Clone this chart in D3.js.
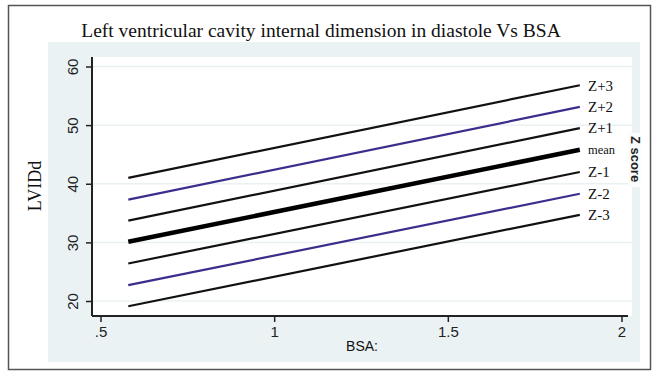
<!DOCTYPE html>
<html>
<head>
<meta charset="utf-8">
<script src="https://cdn.jsdelivr.net/npm/d3@7"></script>
<style>
  body { margin: 0; background: #fff; }
  svg { display: block; }
</style>
</head>
<body>
<script>
// BSA range covered by the reference lines
let bsa = [0.58, 1.88]

// LVIDd at start and end of each line
let zPlus3 = [41.0, 56.8]
let zPlus2 = [37.3, 53.1]
let zPlus1 = [33.7, 49.5]
let zMean = [30.1, 45.8]
let zMinus1 = [26.4, 42.0]
let zMinus2 = [22.7, 38.3]
let zMinus3 = [19.1, 34.7]

let seriesNames = ["Z+3", "Z+2", "Z+1", "mean", "Z-1", "Z-2", "Z-3"]
let xTicks = [0.5, 1, 1.5, 2]
let yTicks = [20, 30, 40, 50, 60]

let series = [zPlus3, zPlus2, zPlus1, zMean, zMinus1, zMinus2, zMinus3]
let colors = ["#111", "#3b2d8c", "#111", "#000", "#111", "#3b2d8c", "#111"]
let widths = [2.2, 2.2, 2.2, 4.5, 2.2, 2.2, 2.2]

let W = 657, H = 376
let svg = d3.select("body").append("svg")
            .attr("width", W)
            .attr("height", H)

// outer frame and background
svg.append("rect")
    .attr("x", 8.5).attr("y", 5.5)
    .attr("width", 642).attr("height", 364)
    .attr("fill", "#fff")
    .attr("stroke", "#555")
    .attr("stroke-width", 1.5)

svg.append("rect")
    .attr("x", 48).attr("y", 42)
    .attr("width", 592).attr("height", 320)
    .attr("fill", "#eaf2f4")

let plot = {left: 92, right: 632, top: 57, bottom: 316}

svg.append("rect")
    .attr("x", plot.left).attr("y", plot.top)
    .attr("width", plot.right - plot.left)
    .attr("height", plot.bottom - plot.top)
    .attr("fill", "#fff")

let x = d3.scaleLinear().domain([0.5, 2]).range([100.5, 621.5])
let y = d3.scaleLinear().domain([20, 60]).range([301, 66.5])

// faint grid
svg.append("g")
    .selectAll("line")
    .data(yTicks)
    .enter()
    .append("line")
        .attr("x1", plot.left).attr("x2", plot.right)
        .attr("y1", d => y(d)).attr("y2", d => y(d))
        .attr("stroke", "#eaf1f3")
        .attr("stroke-width", 1.5)

// lines
let line = d3.line()
    .x(d => x(d[0]))
    .y(d => y(d[1]))

svg.append("g")
    .selectAll("path")
    .data(series)
    .enter()
    .append("path")
        .attr("d", d => line(bsa.map((b, i) => [b, d[i]])))
        .attr("fill", "none")
        .attr("stroke", (d, i) => colors[i])
        .attr("stroke-width", (d, i) => widths[i])

// axes
let yAxis = svg.append("g")
    .attr("transform", "translate(" + plot.left + ",0)")
    .call(d3.axisLeft(y).tickValues(yTicks).tickSize(6).tickPadding(4))
yAxis.select(".domain").attr("d", "M0," + plot.top + "V" + plot.bottom).attr("stroke-width", 2).attr("stroke", "#222")
yAxis.selectAll(".tick line").attr("stroke-width", 1.5).attr("stroke", "#222")
yAxis.selectAll(".tick text")
    .attr("font-family", "Liberation Sans, Arial, sans-serif")
    .attr("font-size", 15)
    .attr("fill", "#222")
    .attr("text-anchor", "middle")
    .attr("transform", "translate(-19,0) rotate(-90)")
    .attr("x", 0).attr("dy", "0.35em")

let xAxis = svg.append("g")
    .attr("transform", "translate(0," + plot.bottom + ")")
    .call(d3.axisBottom(x).tickValues(xTicks).tickFormat(d => d == 0.5 ? ".5" : d3.format("")(d)).tickSize(6).tickPadding(4))
xAxis.select(".domain").attr("d", "M" + plot.left + ",0H" + (plot.right - 4)).attr("stroke-width", 2).attr("stroke", "#222")
xAxis.selectAll(".tick line").attr("stroke-width", 1.5).attr("stroke", "#222")
xAxis.selectAll(".tick text")
    .attr("font-family", "Liberation Sans, Arial, sans-serif")
    .attr("font-size", 15)
    .attr("fill", "#222")

// labels
svg.append("text")
    .attr("x", 321).attr("y", 37)
    .attr("text-anchor", "middle")
    .attr("font-family", "Liberation Serif, Times New Roman, serif")
    .attr("font-size", 19.5)
    .attr("fill", "#111")
    .text("Left ventricular cavity internal dimension in diastole Vs BSA")

svg.append("text")
    .attr("transform", "translate(41,186) rotate(-90)")
    .attr("text-anchor", "middle")
    .attr("font-family", "Liberation Serif, Times New Roman, serif")
    .attr("font-size", 18)
    .attr("fill", "#111")
    .text("LVIDd")

svg.append("text")
    .attr("x", 362).attr("y", 351)
    .attr("text-anchor", "middle")
    .attr("font-family", "Liberation Sans, Arial, sans-serif")
    .attr("font-size", 14)
    .attr("fill", "#111")
    .text("BSA:")

// series labels at line ends
svg.append("g")
    .selectAll("text")
    .data(seriesNames)
    .enter()
    .append("text")
        .attr("x", 588)
        .attr("y", (d, i) => y(series[i][1]))
        .attr("dy", "0.35em")
        .attr("font-family", "Liberation Serif, Times New Roman, serif")
        .attr("font-size", (d) => d == "mean" ? 12.5 : 15)
        .attr("fill", "#111")
        .text(d => d)

svg.append("rect")
    .attr("x", 628).attr("y", 133)
    .attr("width", 13).attr("height", 54)
    .attr("fill", "#fbfdfd")

svg.append("text")
    .attr("transform", "translate(631,159) rotate(90)")
    .attr("text-anchor", "middle")
    .attr("font-family", "Liberation Sans, Arial, sans-serif")
    .attr("font-size", 13)
    .attr("font-weight", "bold")
    .attr("fill", "#222")
    .text("Z score")
</script>
</body>
</html>
